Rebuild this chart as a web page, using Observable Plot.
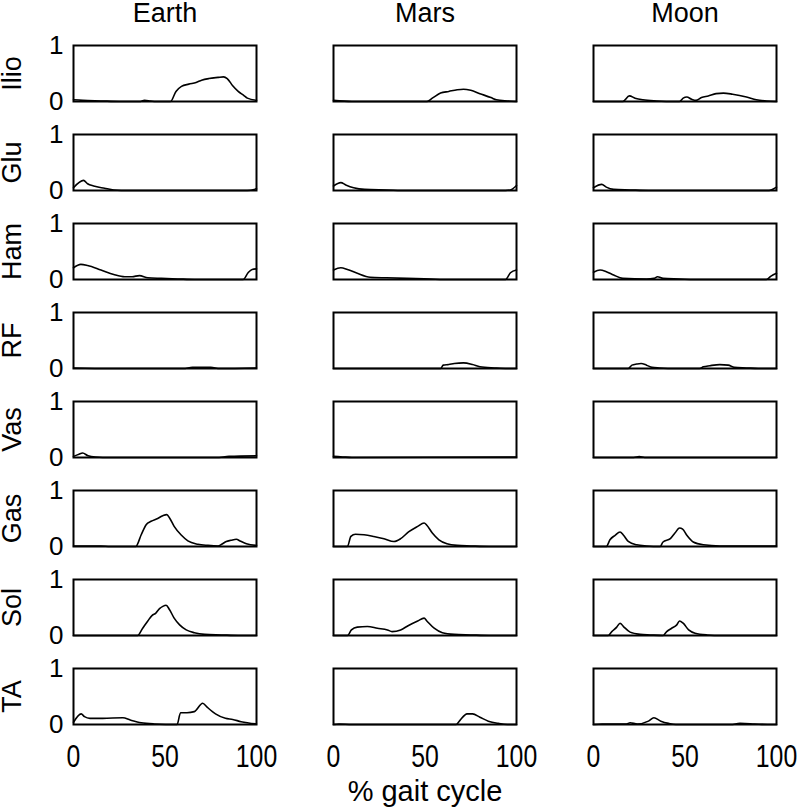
<!DOCTYPE html>
<html><head><meta charset="utf-8">
<script src="https://cdn.jsdelivr.net/npm/d3@7"></script>
<script src="https://cdn.jsdelivr.net/npm/@observablehq/plot@0.6"></script>
<style>body{margin:0;background:#fff}</style>
</head><body><div id="chart"></div>
<script>
const bodies = ["Earth", "Mars", "Moon"];
const muscles = ["Ilio", "Glu", "Ham", "RF", "Vas", "Gas", "Sol", "TA"];
const xTicks = [0, 50, 100];
const yTicks = [0, 1];
const xLabel = "% gait cycle";

// [percent gait cycle, activation]
const earthIlio = [[0,0.03],[5,0.02],[15,0.01],[25,0],[36,0],[38.8,0.02],[42,0.01],[45,0],[53,0],[56,0.18],[59,0.27],[63,0.31],[67,0.34],[70,0.38],[74,0.41],[79,0.43],[82,0.44],[84,0.41],[87,0.28],[90,0.18],[93,0.11],[95,0.06],[100,0.02]];
const earthGlu = [[0,0.05],[5.5,0.18],[7.7,0.12],[11,0.08],[17,0.04],[22,0.01],[30,0],[95,0],[100,0.03]];
const earthHam = [[0,0.21],[4,0.27],[7.7,0.25],[15,0.17],[22,0.09],[28,0.05],[32,0.05],[36,0.07],[40.6,0.03],[48,0.02],[57,0.01],[66,0],[92.7,0],[95.4,0.12],[97.6,0.18],[100,0.19]];
const earthRF = [[0,0.01],[20,0],[60,0],[65,0.02],[75,0.02],[80,0],[100,0.01]];
const earthVas = [[0,0.02],[3,0.06],[5,0.08],[8,0.03],[12,0.01],[20,0],[78,0],[85,0.02],[100,0.03]];
const earthGas = [[0,0.01],[15,0.01],[20,0],[34,0],[37,0.21],[39.7,0.39],[42.4,0.45],[46,0.50],[48.8,0.55],[51,0.57],[52.5,0.51],[55,0.36],[59,0.20],[62.5,0.10],[68,0.04],[73.5,0.02],[79,0.01],[81,0.04],[83.5,0.09],[86,0.11],[89,0.13],[91,0.10],[94.5,0.05],[100,0.02]];
const earthSol = [[0,0],[35,0],[37.8,0.13],[40.6,0.26],[43,0.36],[45,0.40],[47,0.48],[48.8,0.52],[50.6,0.54],[52.5,0.46],[55,0.31],[58,0.19],[61.6,0.10],[66,0.05],[71.7,0.02],[80.8,0.01],[90,0],[100,0]];
const earthTA = [[0,0.04],[4.2,0.19],[6,0.14],[9,0.11],[16,0.11],[27,0.12],[31,0.08],[37,0.03],[44,0.01],[56.6,0],[58.5,0.21],[62,0.21],[66,0.23],[70.6,0.38],[73,0.31],[77.6,0.19],[83,0.11],[87,0.09],[91.6,0.05],[100,0.01]];

const marsIlio = [[0,0.02],[10,0],[51,0],[54,0.06],[58.5,0.15],[63,0.18],[67.6,0.21],[71,0.22],[75,0.20],[80,0.14],[86,0.07],[89,0.03],[95,0.01],[100,0]];
const marsGlu = [[0,0.08],[4,0.14],[6.7,0.10],[11,0.05],[17,0.02],[29,0.01],[40,0],[94,0],[96.7,0.01],[100,0.09]];
const marsHam = [[0,0.17],[4,0.21],[7.6,0.18],[13,0.11],[20,0.04],[29,0.03],[40,0.02],[53,0.01],[60,0],[94,0],[96.7,0.12],[100,0.17]];
const marsRF = [[0,0],[58.5,0],[60,0.06],[63,0.07],[66,0.09],[71,0.10],[76,0.07],[80,0.03],[88,0.01],[95,0],[100,0]];
const marsVas = [[0,0.02],[5,0.01],[10,0],[100,0.01]];
const marsGas = [[0,0],[7.6,0],[9.5,0.18],[12,0.22],[16.7,0.21],[22,0.18],[27.6,0.14],[33,0.09],[36.7,0.14],[41,0.26],[46,0.36],[49.5,0.42],[51,0.38],[54,0.24],[57.6,0.12],[62,0.05],[67.6,0.02],[75,0.01],[85,0],[100,0]];
const marsSol = [[0,0],[7.6,0],[9.8,0.10],[13,0.15],[18.5,0.16],[24,0.13],[29.5,0.10],[32,0.07],[36.7,0.10],[41,0.18],[46,0.26],[49.5,0.31],[51,0.26],[55,0.13],[59.5,0.05],[66,0.02],[75,0.01],[85,0],[100,0]];
const marsTA = [[0,0],[3,0.01],[10,0],[67,0],[69,0.07],[73,0.19],[76,0.19],[80,0.13],[84.6,0.06],[90,0.02],[95,0],[100,0]];

const moonIlio = [[0,0],[16,0],[19.6,0.10],[22.7,0.06],[27,0.03],[34.5,0.01],[45,0],[47,0],[49,0.06],[51,0.08],[53.6,0.04],[56,0.02],[59,0.07],[62.7,0.10],[67,0.14],[71,0.15],[76,0.13],[83.6,0.08],[89,0.03],[94.5,0.01],[100,0]];
const moonGlu = [[0,0.05],[4.5,0.11],[7,0.06],[11,0.02],[20,0.01],[30,0],[95,0],[97,0.01],[100,0.06]];
const moonHam = [[0,0.13],[3.6,0.17],[7,0.14],[11,0.08],[16,0.02],[29,0.01],[33,0.02],[35,0.05],[38,0.02],[47,0.01],[55,0],[94.5,0],[97,0.06],[100,0.11]];
const moonRF = [[0,0],[19,0],[21,0.06],[23.6,0.08],[26,0.09],[29,0.06],[32,0.02],[36,0.01],[45,0],[58,0],[60,0.03],[63.6,0.05],[69,0.07],[73.6,0.06],[77,0.02],[83.6,0.01],[90,0],[100,0]];
const moonVas = [[0,0],[22,0],[25,0.015],[28,0],[100,0]];
const moonGas = [[0,0],[7,0],[9,0.12],[11.8,0.20],[14.5,0.26],[16.4,0.20],[19,0.09],[23.6,0.03],[29,0.01],[36.4,0],[38,0.08],[42,0.14],[44.5,0.24],[47,0.33],[48.7,0.31],[51,0.20],[54.5,0.08],[60,0.03],[69,0.01],[100,0.01]];
const moonSol = [[0,0],[8,0],[10,0.07],[12.7,0.15],[14.5,0.22],[16.4,0.16],[20,0.06],[25.5,0.02],[31,0.01],[38,0],[40,0.07],[42.7,0.13],[45.5,0.19],[47,0.26],[49,0.22],[52,0.10],[55.5,0.04],[62,0.01],[70,0],[100,0]];
const moonTA = [[0,0],[4.7,0.01],[18,0.01],[20,0.03],[24,0.01],[30,0.06],[33,0.12],[36.8,0.06],[41,0.02],[45,0],[75,0],[80,0.02],[88,0.01],[95,0],[100,0]];

const curves = {
  Earth: {Ilio: earthIlio, Glu: earthGlu, Ham: earthHam, RF: earthRF, Vas: earthVas, Gas: earthGas, Sol: earthSol, TA: earthTA},
  Mars: {Ilio: marsIlio, Glu: marsGlu, Ham: marsHam, RF: marsRF, Vas: marsVas, Gas: marsGas, Sol: marsSol, TA: marsTA},
  Moon: {Ilio: moonIlio, Glu: moonGlu, Ham: moonHam, RF: moonRF, Vas: moonVas, Gas: moonGas, Sol: moonSol, TA: moonTA}
};

const rows = [];
for (const b of bodies) for (const m of muscles) for (const [x, y] of curves[b][m]) rows.push({body: b, muscle: m, x, y, key: b + "-" + m});
const rowLabels = muscles.map(m => ({body: bodies[0], muscle: m}));

const chart = Plot.plot({
  width: 800, height: 807,
  marginTop: 44, marginBottom: 83, marginLeft: 73, marginRight: 23,
  style: {fontFamily: "'Liberation Sans', Arial, Helvetica, sans-serif", color: "#000", background: "#fff", overflow: "visible"},
  fx: {domain: bodies, paddingInner: 0.296, paddingOuter: 0, label: null, axis: null},
  fy: {domain: muscles, paddingInner: 0.371, paddingOuter: 0, label: null, axis: null},
  x: {domain: [0, 100], label: null, axis: null},
  y: {domain: [0, 1], label: null, axis: null},
  marks: [
    Plot.axisX({ticks: xTicks, tickFormat: d => String(d), tickSize: 0, tickPadding: 20, fontSize: 31, label: null}),
    Plot.axisY({ticks: yTicks, tickFormat: d => String(d), tickSize: 0, tickPadding: 10, fontSize: 26, label: null}),
    Plot.axisFx({anchor: "top", tickSize: 0, tickPadding: 24, fontSize: 27, label: null}),
    Plot.line(rows, {x: "x", y: "y", z: "key", fx: "body", fy: "muscle", stroke: "#000", strokeWidth: 1.6, curve: "monotone-x"}),
    Plot.frame({stroke: "#000", strokeWidth: 2}),
    Plot.text(rowLabels, {fx: "body", fy: "muscle", text: "muscle", frameAnchor: "left", textAnchor: "middle", dx: -61, rotate: -90, fontSize: 27, fill: "#000"}),
    Plot.text([xLabel], {text: d => d, facet: "super", frameAnchor: "bottom", dy: 76, fontSize: 29, fill: "#000"})
  ]
});
// narrow the x tick digits like the reference's condensed numerals
d3.select(chart).selectAll("g[aria-label='x-axis tick label'] text").each(function() {
  const t = this.getAttribute("transform") || "";
  this.setAttribute("transform", t + " scale(0.8,1)");
});
document.getElementById("chart").appendChild(chart);
</script>
</body></html>
